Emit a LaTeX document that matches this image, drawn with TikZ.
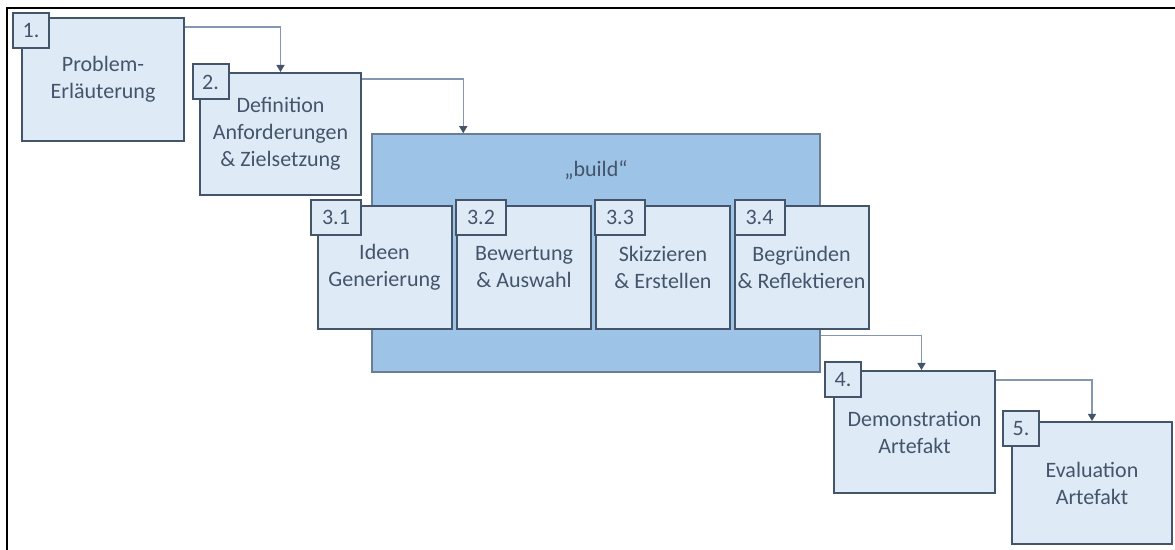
\documentclass[tikz,border=0pt]{standalone}
\usepackage{fontspec}
\setmainfont{Carlito}
\usetikzlibrary{arrows.meta}
\definecolor{hellblau}{HTML}{DEEBF7}
\definecolor{mittelblau}{HTML}{9DC3E6}
\definecolor{schiefer}{HTML}{44546A}
\definecolor{buildrand}{HTML}{6C7E96}
\definecolor{linie}{HTML}{8497B0}

\begin{document}
\begin{tikzpicture}[x=0.5pt, y=-0.5pt,
  schritt/.style={draw=schiefer, line width=1pt, fill=hellblau, text=schiefer,
    align=center, inner sep=0pt, font=\fontsize{11}{13.5}\selectfont},
  nummer/.style={schritt, minimum width=18pt, minimum height=17.5pt},
  teil/.style={schritt, minimum width=67pt, minimum height=61.5pt},
  pfeil/.style={draw=linie, line width=0.6pt, -{Triangle[length=3.5pt,width=4pt,color=schiefer]}}]
\useasboundingbox (0,0) rectangle (1175,550);
% Rahmen
\draw[line width=1pt] (7,550) -- (7,8) -- (1175,8);
%%
\node[schritt, minimum width=81pt, minimum height=61.5pt] (p1) at (103,79.5) {Problem-\\Erläuterung};
\node[nummer] (n1) at (31,30.5) {1.};
\node[schritt, minimum width=80.5pt, minimum height=61pt] (p2) at (280.5,134) {Definition\\Anforderungen\\\& Zielsetzung};
\node[nummer] (n2) at (210.5,82) {2.};
%% build
\node[draw=buildrand, line width=0.75pt, fill=mittelblau, minimum width=224pt, minimum height=119pt] (build) at (596,253) {};
\node[text=schiefer, font=\fontsize{11}{13.5}\selectfont] (buildtext) at (596,170) {„build“};
\foreach \i/\x/\lx/\txt in {1/384.5/336/{Ideen\\Generierung}, 2/524/481/{Bewertung\\\& Auswahl},
  3/663/620/{Skizzieren\\\& Erstellen}, 4/801.5/759.5/{Begründen\\\& Reflektieren}}{
  \node[teil] (s\i) at (\x,267.5) {\txt};
  \node[nummer, minimum width=25pt] (t\i) at (\lx,217.5) {3.\i};
}
%%
\node[schritt, minimum width=80.5pt, minimum height=61pt] (p4) at (914.5,432) {Demonstration\\Artefakt};
\node[nummer] (n4) at (843,380) {4.};
\node[schritt, minimum width=80pt, minimum height=61pt] (p5) at (1092,483) {Evaluation\\Artefakt};
\node[nummer] (n5) at (1021,428.5) {5.};
%% Pfeile
\draw[pfeil] ([yshift=-5pt]p1.north east) -| (p2.north);
\draw[pfeil] ([yshift=-3.5pt]p2.north east) -| ([xshift=46pt]build.north west);
\draw[pfeil] ([yshift=18.5pt]build.south east) -| ([xshift=3.5pt]p4.north);
\draw[pfeil] ([yshift=-5pt]p4.north east) -| (p5.north);
\end{tikzpicture}
\end{document}
